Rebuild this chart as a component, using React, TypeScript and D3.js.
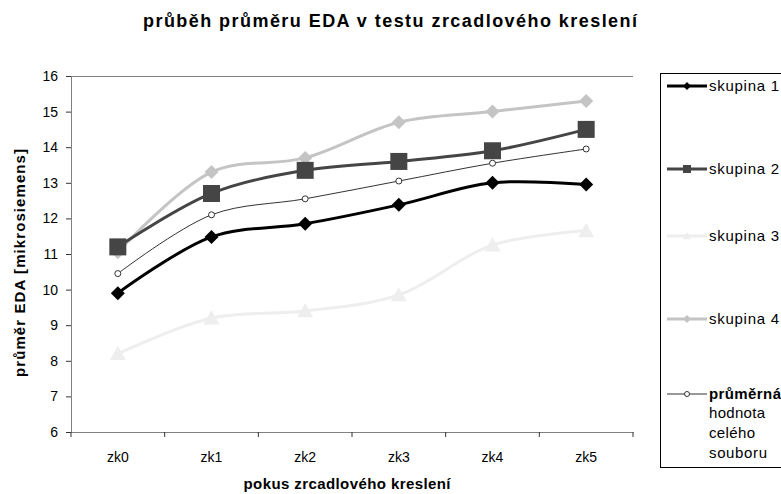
import React, { useEffect, useRef } from 'react';
import * as d3 from 'd3';

const categories = ['zk0', 'zk1', 'zk2', 'zk3', 'zk4', 'zk5'];
const skupina1 = [9.9, 11.48, 11.85, 12.38, 13.0, 12.95];
const skupina2 = [11.2, 12.7, 13.35, 13.6, 13.9, 14.5];
const skupina3 = [8.2, 9.2, 9.4, 9.85, 11.25, 11.65];
const skupina4 = [11.05, 13.3, 13.7, 14.7, 15.0, 15.3];
const prumer = [10.45, 12.1, 12.55, 13.05, 13.55, 13.95];
const yTicks = [6, 7, 8, 9, 10, 11, 12, 13, 14, 15, 16];

const series = [
  { name: 'skupina 1', values: skupina1, color: '#000000', width: 3, marker: 'diamond', size: 14 },
  { name: 'skupina 2', values: skupina2, color: '#454545', width: 3, marker: 'square', size: 17 },
  { name: 'skupina 3', values: skupina3, color: '#eeeeee', width: 3, marker: 'triangle', size: 16 },
  { name: 'skupina 4', values: skupina4, color: '#c4c4c4', width: 3, marker: 'diamond', size: 14 },
  { name: 'průměrná', values: prumer, color: '#333333', width: 1, marker: 'circle', size: 7 },
];

const font = 'Liberation Sans, Arial, sans-serif';

function drawMarker(g, type, x, y, size, color) {
  const h = size / 2;
  if (type === 'diamond') {
    g.append('path').attr('d', `M${x},${y - h}L${x + h},${y}L${x},${y + h}L${x - h},${y}Z`).attr('fill', color);
  } else if (type === 'square') {
    g.append('rect').attr('x', x - h).attr('y', y - h).attr('width', size).attr('height', size).attr('fill', color);
  } else if (type === 'triangle') {
    g.append('path').attr('d', `M${x},${y - h}L${x + h},${y + h * 0.8}L${x - h},${y + h * 0.8}Z`).attr('fill', color);
  } else {
    g.append('circle').attr('cx', x).attr('cy', y).attr('r', h - 0.5).attr('fill', '#fff').attr('stroke', color).attr('stroke-width', 1);
  }
}

// text stretched to the width seen in the reference
function label(g, x, y, txt, size, bold, width, anchor = 'start') {
  return g.append('text').attr('x', x).attr('y', y).attr('text-anchor', anchor)
    .attr('font-family', font).attr('font-size', size).attr('font-weight', bold ? 'bold' : 'normal')
    .attr('textLength', width).attr('lengthAdjust', 'spacing').text(txt);
}

const App = () => {
  const svgRef = useRef(null);

  useEffect(() => {
    const svg = d3.select(svgRef.current);
    svg.selectAll('*').remove();

    const margin = { left: 71, top: 76, right: 633, bottom: 432 };

    const x = d3.scaleBand().domain(categories).range([margin.left, margin.right]);
    const y = d3.scaleLinear().domain([6, 16]).range([margin.bottom, margin.top]);
    const cx = (c) => x(c) + x.bandwidth() / 2;

    // title
    label(svg, 390, 27, 'průběh průměru EDA v testu zrcadlového kreslení', 18, true, 494, 'middle');

    // top border
    svg.append('line').attr('x1', margin.left).attr('x2', margin.right)
      .attr('y1', margin.top + 0.5).attr('y2', margin.top + 0.5).attr('stroke', '#808080');

    const yAxis = svg.append('g').attr('transform', `translate(${margin.left},0)`)
      .call(d3.axisLeft(y).tickValues(yTicks).tickSize(5).tickPadding(8));
    yAxis.select('.domain').attr('stroke', '#808080');
    yAxis.selectAll('.tick line').attr('stroke', '#333');
    yAxis.selectAll('text').attr('font-family', font).attr('font-size', 14).attr('fill', '#000');

    const xAxis = svg.append('g').attr('transform', `translate(0,${margin.bottom})`)
      .call(d3.axisBottom(x).tickSize(0).tickPadding(20));
    xAxis.select('.domain').attr('stroke', '#808080');
    xAxis.selectAll('text').attr('font-family', font).attr('font-size', 14).attr('fill', '#000');
    const edges = categories.map((c) => x(c)).concat([margin.right]);
    svg.append('g').selectAll('line').data(edges).join('line')
      .attr('x1', (d) => d).attr('x2', (d) => d)
      .attr('y1', margin.bottom).attr('y2', margin.bottom + 5).attr('stroke', '#333');

    // axis titles
    label(svg, 347, 489, 'pokus zrcadlového kreslení', 15, true, 207, 'middle');
    label(svg, 0, 0, 'průměr EDA [mikrosiemens]', 15, true, 228, 'middle')
      .attr('transform', 'translate(25,263) rotate(-90)');

    const line = d3.line().x((d, i) => cx(categories[i])).y((d) => y(d)).curve(d3.curveCatmullRom.alpha(0.5));

    const plot = svg.append('g');
    const order = [2, 3, 4, 1, 0];
    order.forEach((si) => {
      const s = series[si];
      plot.append('path').attr('d', line(s.values)).attr('fill', 'none')
        .attr('stroke', s.color).attr('stroke-width', s.width);
    });
    order.forEach((si) => {
      const s = series[si];
      s.values.forEach((v, i) => drawMarker(plot, s.marker, cx(categories[i]), y(v), s.size, s.color));
    });

    // legend
    const lg = svg.append('g');
    lg.append('rect').attr('x', 660.5).attr('y', 73.5).attr('width', 126).attr('height', 394)
      .attr('fill', '#fff').attr('stroke', '#000');
    const ly = [86, 169, 236, 319, 394];
    const widths = [70, 70, 70, 70, 72];
    series.forEach((s, i) => {
      lg.append('line').attr('x1', 667).attr('x2', 707).attr('y1', ly[i]).attr('y2', ly[i])
        .attr('stroke', s.color).attr('stroke-width', s.width);
      drawMarker(lg, s.marker, 687, ly[i], s.marker === 'circle' ? 6 : 8, s.color);
      label(lg, 709, ly[i] + 5, s.name, 15, i === 4, widths[i]);
    });
    const extra = ['hodnota', 'celého', 'souboru'];
    const extraW = [56, 46, 58];
    extra.forEach((t, i) => {
      label(lg, 709, 398 + 20 * (i + 1), t, 15, false, extraW[i]);
    });
  }, []);

  return (
    <svg ref={svgRef} width={781} height={494} style={{ position: 'absolute', left: 0, top: 0 }} />
  );
};

export default App;
